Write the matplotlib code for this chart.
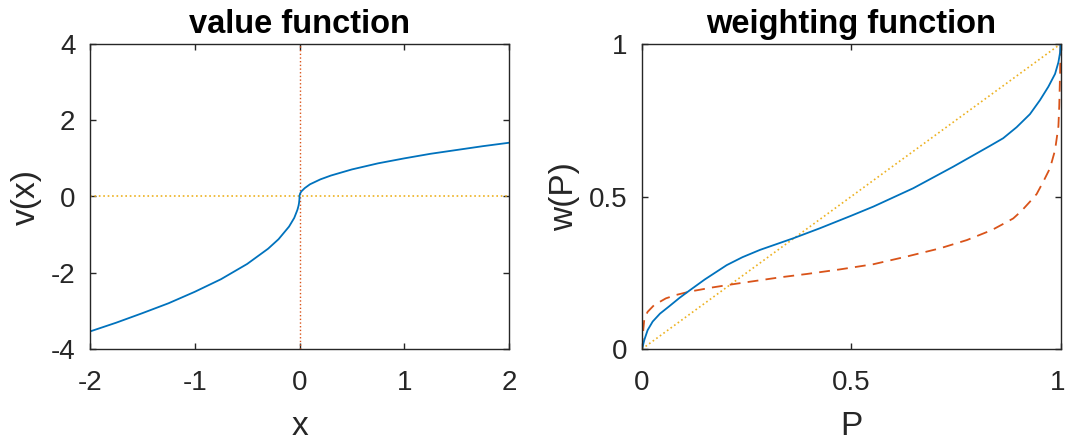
import numpy as np
import matplotlib
matplotlib.use("Agg")
import matplotlib.pyplot as plt
import matplotlib.transforms as mtransforms

# value function
x_loss = [-2, -1.75, -1.5, -1.25, -1, -0.75, -0.5, -0.3, -0.2, -0.1, -0.05, -0.02, -0.01, -0.005, -0.001, 0]
v_loss = [-3.54, -3.31, -3.06, -2.80, -2.50, -2.17, -1.77, -1.37, -1.12, -0.79, -0.56, -0.35, -0.25, -0.18, -0.08, 0]
x_gain = [0, 0.001, 0.005, 0.01, 0.02, 0.05, 0.1, 0.2, 0.3, 0.5, 0.75, 1, 1.25, 1.5, 1.75, 2]
v_gain = [0, 0.03, 0.07, 0.10, 0.14, 0.22, 0.32, 0.45, 0.55, 0.71, 0.87, 1.00, 1.12, 1.22, 1.32, 1.41]

# weighting functions
p_solid = [0, 0.0016, 0.0056, 0.0135, 0.0255, 0.043, 0.065, 0.09, 0.1147, 0.15, 0.2024, 0.24,
           0.282, 0.3615, 0.4253, 0.5, 0.553, 0.648, 0.744, 0.8315, 0.863, 0.895, 0.927, 0.951,
           0.971, 0.987, 0.995, 0.999, 1]
w_solid = [0, 0.008, 0.03, 0.062, 0.09, 0.116, 0.140, 0.168, 0.193, 0.228, 0.275, 0.301,
           0.325, 0.363, 0.396, 0.437, 0.467, 0.527, 0.598, 0.666, 0.691, 0.727, 0.770, 0.816,
           0.860, 0.902, 0.940, 0.972, 1]
p_dash = [0, 0.0016, 0.0056, 0.0135, 0.029, 0.057, 0.081, 0.113, 0.169, 0.225, 0.250, 0.330, 0.394,
          0.473, 0.553, 0.632, 0.712, 0.776, 0.836, 0.859, 0.887, 0.907, 0.927, 0.943, 0.959, 0.975,
          0.987, 0.995, 0.997, 0.999, 1]
w_dash = [0, 0.04, 0.10, 0.122, 0.144, 0.166, 0.177, 0.188, 0.202, 0.214, 0.219, 0.235, 0.246,
          0.261, 0.278, 0.303, 0.330, 0.357, 0.390, 0.407, 0.428, 0.453, 0.483, 0.508, 0.549, 0.593,
          0.652, 0.730, 0.796, 0.905, 1]

BLUE = "#0072BD"
RED = "#D95319"
YELLOW = "#EDB120"
AXC = "#262626"

plt.rcParams['font.family'] = ['Liberation Sans', 'DejaVu Sans']
plt.rcParams['axes.unicode_minus'] = False

fig = plt.figure(figsize=(10.66, 4.44), dpi=100)
W, H = 1066, 444


def make_axes(x0, x1, y0, y1):
    ax = fig.add_axes([x0 / W, 1 - y1 / H, (x1 - x0) / W, (y1 - y0) / H])
    for s in ax.spines.values():
        s.set_color(AXC)
        s.set_linewidth(1.0)
    ax.tick_params(direction="in", top=True, right=True, length=4, width=1.0,
                   colors=AXC, labelsize=20, labelcolor=AXC)
    ax.tick_params(axis="x", pad=15)
    ax.tick_params(axis="y", pad=10.5)
    return ax


ax1 = make_axes(90, 509, 44, 349)
ax1.plot([0, 0], [-4, 4], ":", color=RED, lw=1.0)
ax1.plot([-2, 2], [0, 0], ":", color=YELLOW, lw=1.2)
ax1.plot(x_loss + x_gain[1:], v_loss + v_gain[1:], "-", color=BLUE, lw=1.3)
ax1.set_xlim(-2, 2)
ax1.set_ylim(-4, 4)
ax1.set_xticks([-2, -1, 0, 1, 2])
ax1.set_yticks([-4, -2, 0, 2, 4])
ax1.set_xlabel("x", fontsize=24, color=AXC, labelpad=11)
ax1.set_ylabel("v(x)", fontsize=24, color=AXC, labelpad=6)
ax1.set_title("value function", fontsize=23.5, fontweight="bold", pad=8)

ax2 = make_axes(642, 1060.5, 44, 349)
ax2.plot([0, 1], [0, 1], ":", color=YELLOW, lw=1.2)
ax2.plot(p_dash, w_dash, "--", color=RED, lw=1.3, dashes=(6, 4))
ax2.plot(p_solid, w_solid, "-", color=BLUE, lw=1.3)
ax2.set_xlim(0, 1)
ax2.set_ylim(0, 1)
ax2.set_xticks([0, 0.5, 1])
ax2.set_yticks([0, 0.5, 1])
ax2.set_xticklabels(["0", "0.5", "1"])
ax2.set_yticklabels(["0", "0.5", "1"])
ax2.set_xlabel("P", fontsize=24, color=AXC, labelpad=11)
ax2.set_ylabel("w(P)", fontsize=24, color=AXC, labelpad=6)
ax2.set_title("weighting function", fontsize=23.5, fontweight="bold", pad=8)

# keep the last tick label inside the canvas
last = ax2.get_xticklabels()[-1]
last.set_transform(last.get_transform() +
                   mtransforms.ScaledTranslation(-3 / 100, 0, fig.dpi_scale_trans))

fig.savefig("out.png", dpi=100)
